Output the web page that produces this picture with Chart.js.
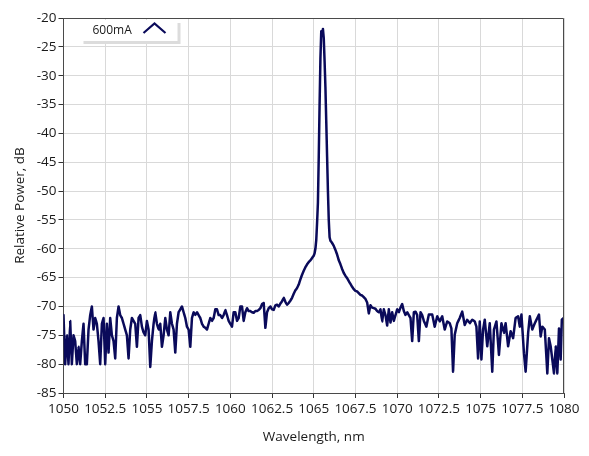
<!DOCTYPE html>
<html>
<head>
<meta charset="utf-8">
<script src="https://cdn.jsdelivr.net/npm/chart.js@4.4.1/dist/chart.umd.min.js"></script>
<style>
html,body{margin:0;padding:0;background:#fff;}
#wrap{width:589px;height:456px;}
</style>
</head>
<body>
<div id="wrap"><canvas id="c" width="589" height="456"></canvas></div>
<script>
const seriesName = "600mA";
const xTitle = "Wavelength, nm";
const yTitle = "Relative Power, dB";
const xMin = 1050, xMax = 1080, xStep = 2.5;
const yMin = -85, yMax = -20, yStep = 5;

const wavelength = [
1050.0,1050.1,1050.2,1050.3,1050.4,1050.5,1050.6,1050.7,1050.8,1050.9,
1051.0,1051.1,1051.2,1051.3,1051.4,1051.5,1051.6,1051.7,1051.8,1051.9,
1052.0,1052.1,1052.2,1052.3,1052.4,1052.5,1052.6,1052.7,1052.8,1052.9,
1053.0,1053.1,1053.2,1053.3,1053.4,1053.5,1053.6,1053.7,1053.8,1053.9,
1054.0,1054.1,1054.2,1054.3,1054.4,1054.5,1054.6,1054.7,1054.8,1054.9,
1055.0,1055.1,1055.2,1055.3,1055.4,1055.5,1055.6,1055.7,1055.8,1055.9,
1056.0,1056.1,1056.2,1056.3,1056.4,1056.5,1056.6,1056.7,1056.8,1056.9,
1057.0,1057.1,1057.2,1057.3,1057.4,1057.5,1057.6,1057.7,1057.8,1057.9,
1058.0,1058.1,1058.2,1058.3,1058.4,1058.5,1058.6,1058.7,1058.8,1058.9,
1059.0,1059.1,1059.2,1059.3,1059.4,1059.5,1059.6,1059.7,1059.8,1059.9,
1060.0,1060.1,1060.2,1060.3,1060.4,1060.5,1060.6,1060.7,1060.8,1060.9,
1061.0,1061.1,1061.2,1061.3,1061.4,1061.5,1061.6,1061.7,1061.8,1061.9,
1062.0,1062.1,1062.2,1062.3,1062.4,1062.5,1062.6,1062.7,1062.8,1062.9,
1063.0,1063.1,1063.2,1063.3,1063.4,1063.5,1063.6,1063.7,1063.8,1063.9,
1064.0,1064.1,1064.2,1064.3,1064.4,1064.5,1064.6,1064.7,1064.8,1064.9,
1065.0,1065.05,1065.1,1065.15,1065.2,1065.25,1065.3,1065.35,1065.4,1065.45,
1065.5,1065.55,1065.6,1065.65,1065.7,1065.75,1065.8,1065.85,1065.9,1065.95,
1066.0,1066.1,1066.2,1066.3,1066.4,1066.5,1066.6,1066.7,1066.8,1066.9,
1067.0,1067.1,1067.2,1067.3,1067.4,1067.5,1067.6,1067.7,1067.8,1067.9,
1068.0,1068.1,1068.2,1068.3,1068.4,1068.5,1068.6,1068.7,1068.8,1068.9,
1069.0,1069.1,1069.2,1069.3,1069.4,1069.5,1069.6,1069.7,1069.8,1069.9,
1070.0,1070.1,1070.2,1070.3,1070.4,1070.5,1070.6,1070.7,1070.8,1070.9,
1071.0,1071.1,1071.2,1071.3,1071.4,1071.5,1071.6,1071.75,1071.9,1072.1,
1072.25,1072.4,1072.55,1072.7,1072.85,1073.0,1073.15,1073.25,1073.35,1073.45,
1073.6,1073.75,1073.9,1074.05,1074.2,1074.35,1074.5,1074.65,1074.75,1074.85,
1074.95,1075.05,1075.15,1075.25,1075.4,1075.55,1075.7,1075.8,1075.95,1076.1,
1076.25,1076.4,1076.5,1076.65,1076.8,1076.95,1077.1,1077.25,1077.35,1077.45,
1077.6,1077.7,1077.85,1077.95,1078.1,1078.25,1078.4,1078.5,1078.6,1078.7,
1078.85,1079.0,1079.1,1079.2,1079.3,1079.4,1079.5,1079.6,1079.7,1079.8,
1079.87,1079.97
];

const power = [
-71.5,-80,-75,-80,-72.5,-80,-75,-76,-80,-77,
-80,-76,-73,-80,-80,-74,-71.5,-70,-74,-72,
-73,-76,-80,-73,-72,-80,-73,-78,-72,-75,
-76,-79,-72,-70,-71.5,-72,-73,-74,-75,-79,
-74,-72,-72.5,-73,-77,-72,-71.5,-73.5,-74.5,-75,
-72.5,-74,-80.5,-76,-73,-71,-73,-74,-73,-77,
-75,-72,-74,-75,-71,-73,-74,-78,-73,-71,
-70.5,-70,-71,-72,-73.5,-74,-77,-72,-71,-71.5,
-71,-71.5,-72,-73,-73.5,-73.7,-74,-73,-72,-72.5,
-72,-70.5,-70.5,-71.5,-71.5,-72,-71.5,-70.6,-71.5,-72.5,
-73,-73.5,-71,-71,-72.5,-72,-70,-70,-72.5,-71,
-70.3,-70.8,-70.8,-71,-71.1,-70.8,-70.8,-70.6,-70.3,-69.6,
-69.4,-73.7,-71,-70.3,-70,-70.5,-70.6,-69.8,-69.7,-70,
-69.5,-69.1,-68.5,-69.2,-69.7,-69.4,-69,-68.5,-67.8,-67.2,
-66.8,-66.2,-65.3,-64.5,-63.8,-63.2,-62.7,-62.3,-62,-61.6,
-61.2,-60.8,-60,-58.5,-55.5,-52,-44,-35,-27,-22.3,
-22.8,-21.9,-23.5,-27.5,-32,-38,-44,-50,-55,-58,
-58.6,-59,-59.5,-60.2,-61,-62,-62.7,-63.5,-64.2,-64.7,
-65.1,-65.6,-66.1,-66.6,-67,-67.3,-67.4,-67.7,-68,-68.1,
-68.4,-68.7,-69.3,-71.2,-69.8,-70.2,-70.3,-70.4,-70.8,-71,
-70.5,-72.6,-70.5,-71.5,-73.3,-70.5,-72.8,-71,-72.5,-71.5,
-70.5,-71,-70.2,-69.6,-70.8,-71.5,-71,-71.5,-72,-76,
-71,-70.9,-71.5,-76,-71,-71.5,-72.5,-73.5,-71.4,-71.4,
-73.5,-71.7,-72.6,-71.7,-74,-72.6,-72.9,-73.8,-81.3,-74.9,
-72.9,-72,-70.9,-73.2,-72.3,-72.9,-72.3,-72.6,-73.5,-79,
-72.6,-79.2,-74,-72.3,-76.9,-72.9,-81.3,-74,-72.6,-78.4,
-72.9,-74.6,-72.9,-76.9,-74.3,-75.5,-72,-71.7,-73.5,-71.4,
-78.1,-81.3,-74.6,-71.7,-74,-72.9,-72,-71.4,-75.2,-73.5,
-74,-81.6,-75.5,-76.9,-79.2,-81.6,-76.9,-81.6,-73.8,-79.2,
-72.3,-72
];

const lineColor = "#0a0a5a";
const FONT = "'Open Sans', 'Noto Sans', sans-serif";

const points = wavelength.map((w, i) => ({x: w, y: power[i]}));

const framePlugin = {
  id: 'frame',
  afterDatasetsDraw(chart) {
    const {ctx, chartArea: a} = chart;
    ctx.save();
    ctx.strokeStyle = '#4a4a4a';
    ctx.lineWidth = 1;
    ctx.beginPath();
    ctx.moveTo(a.left, a.top + 0.5);
    ctx.lineTo(a.right - 0.5, a.top + 0.5);
    ctx.lineTo(a.right - 0.5, a.bottom);
    ctx.stroke();
    ctx.restore();
  }
};

const legendPlugin = {
  id: 'boxLegend',
  afterDraw(chart) {
    const {ctx, chartArea: a} = chart;
    const x = a.left + 17, y = a.top + 2, w = 97, h = 21;
    ctx.save();
    ctx.fillStyle = '#dcdcdc';
    ctx.fillRect(x + 3, y + 3, w, h);
    ctx.fillStyle = '#ffffff';
    ctx.fillRect(x, y, w, h);
    ctx.fillStyle = '#1a1a1a';
    ctx.font = "12px " + FONT;
    ctx.textBaseline = 'middle';
    ctx.textAlign = 'left';
    ctx.fillText(chart.data.datasets[0].label, x + 12, y + h / 2 + 0.5);
    ctx.strokeStyle = lineColor;
    ctx.lineWidth = 2.2;
    ctx.lineJoin = 'miter';
    ctx.beginPath();
    ctx.moveTo(x + 63, y + 13);
    ctx.lineTo(x + 74, y + 3.5);
    ctx.lineTo(x + 85, y + 13);
    ctx.stroke();
    ctx.restore();
  }
};

new Chart(document.getElementById('c'), {
  type: 'line',
  data: {
    datasets: [{
      label: seriesName,
      data: points,
      borderColor: lineColor,
      borderWidth: 2.5,
      borderJoinStyle: 'round',
      borderCapStyle: 'round',
      pointRadius: 0,
      tension: 0.0001,
      fill: false
    }]
  },
  options: {
    responsive: false,
    animation: false,
    devicePixelRatio: 1,
    layout: {padding: {left: 0, top: 18, right: 25, bottom: 0}},
    plugins: {legend: {display: false}, tooltip: {enabled: false}},
    scales: {
      x: {
        type: 'linear',
        min: xMin, max: xMax,
        afterFit(s) { s.height = 63; },
        ticks: {
          stepSize: xStep, autoSkip: false, maxRotation: 0, padding: 3,
          color: '#1a1a1a', font: {family: FONT, size: 13.5},
          callback: v => String(v)
        },
        grid: {color: '#d9d9d9', lineWidth: 1, tickLength: 5, tickColor: '#333', drawTicks: true},
        border: {color: '#4a4a4a', width: 1},
        title: {display: true, text: xTitle, color: '#1a1a1a', font: {family: FONT, size: 13.5}, padding: {top: 0, bottom: 11}}
      },
      y: {
        type: 'linear',
        min: yMin, max: yMax,
        afterFit(s) { s.width = 63.5; },
        ticks: {
          stepSize: yStep, padding: 2,
          color: '#1a1a1a', font: {family: FONT, size: 13.5},
          callback: v => String(v)
        },
        grid: {color: '#d9d9d9', lineWidth: 1, tickLength: 5, tickColor: '#333', drawTicks: true},
        border: {color: '#4a4a4a', width: 1},
        title: {display: true, text: yTitle, color: '#1a1a1a', font: {family: FONT, size: 13.5}, padding: {top: 12, bottom: 0}}
      }
    }
  },
  plugins: [framePlugin, legendPlugin]
});
</script>
</body>
</html>
